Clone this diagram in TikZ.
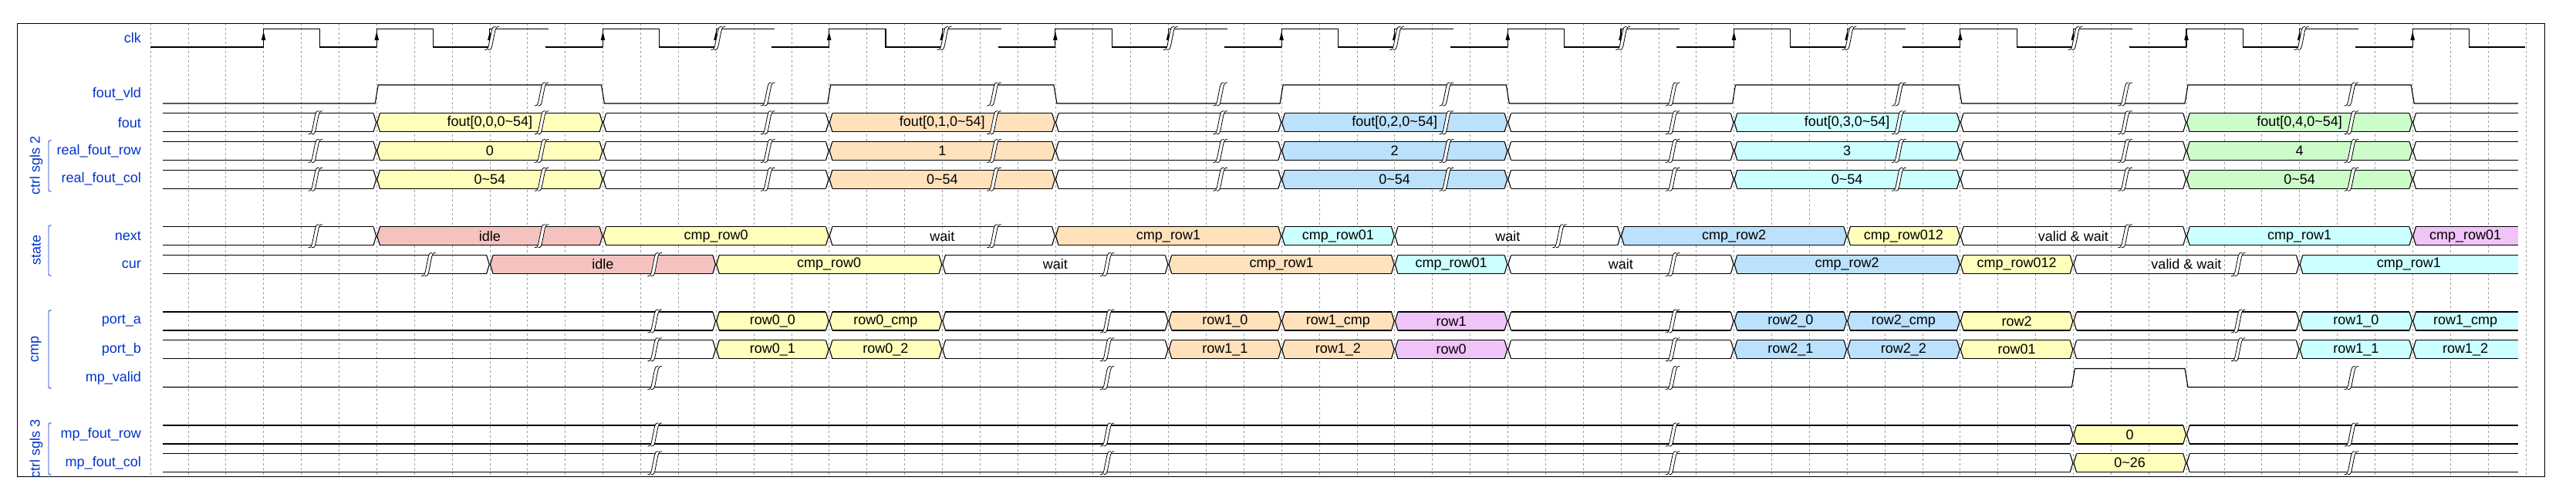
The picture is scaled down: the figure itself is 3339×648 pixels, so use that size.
\documentclass[tikz,border=0pt]{standalone}
\usepackage{fontspec}
\setmainfont{Liberation Sans}
\definecolor{cY}{HTML}{FFFFBB}
\definecolor{cO}{HTML}{FFE1BB}
\definecolor{cB}{HTML}{BBE1FD}
\definecolor{cC}{HTML}{CCFFFF}
\definecolor{cG}{HTML}{CCFCC8}
\definecolor{cP}{HTML}{F4C3C0}
\definecolor{cV}{HTML}{F0C4F8}
\definecolor{lbl}{HTML}{0033CC}
\tikzset{
  sig/.style={line width=1.1pt,black},
  grid/.style={gray!75,line width=0.6pt,dash pattern=on 3pt off 3pt},
  txt/.style={font=\fontsize{18}{20}\selectfont,inner sep=0pt},
  lab/.style={font=\fontsize{18}{20}\selectfont,text=lbl,anchor=east,inner sep=0pt},
  grp/.style={font=\fontsize{18}{20}\selectfont,text=lbl,rotate=90,inner sep=0pt},
  brace/.style={lbl,line width=0.8pt},
  brk/.style={line width=0.8pt,black}
}
\newcommand\seg[5]{%
\pgfmathsetmacro\mxa{195+48.87*#2}%
\pgfmathsetmacro\mxb{195+48.87*#3}%
\pgfmathsetmacro\myt{#1}\pgfmathsetmacro\mym{#1+12}\pgfmathsetmacro\myb{#1+24}%
\ifdim #2pt<1pt \let\mla\mxa\let\mlt\mxa\else\pgfmathsetmacro\mla{\mxa+0.6}\pgfmathsetmacro\mlt{\mxa+4.2}\fi
\ifdim #3pt>62pt \let\mra\mxb\let\mrt\mxb\else\pgfmathsetmacro\mra{\mxb-0.6}\pgfmathsetmacro\mrt{\mxb-4.2}\fi
\path[fill=#4] (\mla,\mym)--(\mlt,\myt)--(\mrt,\myt)--(\mra,\mym)--(\mrt,\myb)--(\mlt,\myb)--cycle;
\draw[sig] (\mlt,\myt)--(\mrt,\myt) (\mlt,\myb)--(\mrt,\myb);
\ifdim #2pt<1pt\else\draw[sig] (\mlt,\myt)--(\mla,\mym)--(\mlt,\myb);\fi
\ifdim #3pt>62pt\else\draw[sig] (\mrt,\myt)--(\mra,\mym)--(\mrt,\myb);\fi
\node[txt] at ({(\mxa+\mxb)/2},\mym) {#5};
}
\newcommand\brkm[2]{%
\pgfmathsetmacro\bxo{195+48.87*#2}\pgfmathsetmacro\bta{#1-3}\pgfmathsetmacro\btb{#1+27}%
\fill[white] ({\bxo-8},\btb) .. controls ({\bxo-4},\btb) and ({\bxo-4},{\btb-2}) .. ({\bxo-3},{\btb-5}) -- ({\bxo+1},{\bta+5}) .. controls ({\bxo+2},{\bta+2}) and ({\bxo+2},\bta) .. ({\bxo+6},\bta)
 -- ({\bxo+10.5},\bta) .. controls ({\bxo+6.5},\bta) and ({\bxo+6.5},{\bta+2}) .. ({\bxo+5.5},{\bta+5}) -- ({\bxo+1.5},{\btb-5}) .. controls ({\bxo+0.5},{\btb-2}) and ({\bxo+0.5},\btb) .. ({\bxo-3.5},\btb) -- cycle;
\draw[brk] ({\bxo-8},\btb) .. controls ({\bxo-4},\btb) and ({\bxo-4},{\btb-2}) .. ({\bxo-3},{\btb-5}) -- ({\bxo+1},{\bta+5}) .. controls ({\bxo+2},{\bta+2}) and ({\bxo+2},\bta) .. ({\bxo+6},\bta);
\draw[brk] ({\bxo-3.5},\btb) .. controls ({\bxo+0.5},\btb) and ({\bxo+0.5},{\btb-2}) .. ({\bxo+1.5},{\btb-5}) -- ({\bxo+5.5},{\bta+5}) .. controls ({\bxo+6.5},{\bta+2}) and ({\bxo+6.5},\bta) .. ({\bxo+10.5},\bta);
}
\begin{document}
\begin{tikzpicture}[x=1pt,y=-1pt]
\useasboundingbox (0,0) rectangle (3339,648);
% grid
\foreach \g in {0,...,63} \draw[grid] ({195+48.87*\g},30) -- ({195+48.87*\g},617);
\draw[line width=0.9pt] (22,30) rectangle (3298,617);
% labels
\node[lab] (lclk) at (183,49.5) {clk};
\node[lab] (lvld) at (183,122) {fout\_vld};
\node[lab] (lfout) at (183,158.75) {fout};
\node[lab] (lrow) at (183,195.5) {real\_fout\_row};
\node[lab] (lcol) at (183,232.25) {real\_fout\_col};
\node[lab] (lnext) at (183,305.75) {next};
\node[lab] (lcur) at (183,342.5) {cur};
\node[lab] (lpa) at (183,416) {port\_a};
\node[lab] (lpb) at (183,452.75) {port\_b};
\node[lab] (lmv) at (183,489.5) {mp\_valid};
\node[lab] (lmr) at (183,563) {mp\_fout\_row};
\node[lab] (lmc) at (183,599.75) {mp\_fout\_col};
% groups
\node[grp] (g1) at (47,214) {ctrl sgls 2};
\node[grp] (g2) at (47,324) {state};
\node[grp] (g3) at (47,452) {cmp};
\node[grp] (g4) at (47,581) {ctrl sgls 3};
\foreach \a/\b in {182/248,292/357,402/503,548/615}
  \draw[brace] (67,\a) .. controls (63,\a) .. (63,\a+5) -- (63,\b-5) .. controls (63,\b) .. (67,\b);
% clk
\draw[sig] (195,61) -- ({195+48.87*3},61);
\foreach \k in {1,...,20}{
  \pgfmathsetmacro\ckr{195+48.87*3*\k}
  \pgfmathsetmacro\ckf{\ckr+48.87*1.5}
  \pgfmathsetmacro\ckn{min(\ckr+48.87*3,3273)}
  \pgfmathtruncatemacro\isb{(mod(\k,2)==1)&&(\k>2)}
  \ifnum\isb=1
    \draw[sig] (\ckr,61) -- (\ckr,37.5) -- ({\ckf+3},37.5);
    \draw[sig] ({\ckf-1},61) -- (\ckn,61);
  \else
    \draw[sig] (\ckr,61) -- (\ckr,37.5) -- (\ckf,37.5) -- (\ckf,61) -- (\ckn,61);
  \fi
  \fill (\ckr,41) -- ({\ckr-2.8},52) -- ({\ckr+2.8},52) -- cycle;
}
\foreach \k in {3,5,...,19} \brkm{37.5}{3*\k+1.5};
% fout_vld
\draw[sig] (211,134) \foreach \k in {0,...,4}{ -- ({195+48.87*(6+12*\k)-2},134) -- ({195+48.87*(6+12*\k)+2},110) -- ({195+48.87*(12+12*\k)-2},110) -- ({195+48.87*(12+12*\k)+2},134)} -- (3264,134);
\foreach \u in {10.35,16.35,22.35,28.35,34.35,40.35,46.35,52.35,58.35} \brkm{110}{\u};
% fout
\seg{146.75}{0.33}{6}{none}{}
\seg{146.75}{6}{12}{cY}{fout[0,0,0\textasciitilde54]}
\seg{146.75}{12}{18}{none}{}
\seg{146.75}{18}{24}{cO}{fout[0,1,0\textasciitilde54]}
\seg{146.75}{24}{30}{none}{}
\seg{146.75}{30}{36}{cB}{fout[0,2,0\textasciitilde54]}
\seg{146.75}{36}{42}{none}{}
\seg{146.75}{42}{48}{cC}{fout[0,3,0\textasciitilde54]}
\seg{146.75}{48}{54}{none}{}
\seg{146.75}{54}{60}{cG}{fout[0,4,0\textasciitilde54]}
\seg{146.75}{60}{62.8}{none}{}
% real_fout_row
\seg{183.5}{0.33}{6}{none}{}
\seg{183.5}{6}{12}{cY}{0}
\seg{183.5}{12}{18}{none}{}
\seg{183.5}{18}{24}{cO}{1}
\seg{183.5}{24}{30}{none}{}
\seg{183.5}{30}{36}{cB}{2}
\seg{183.5}{36}{42}{none}{}
\seg{183.5}{42}{48}{cC}{3}
\seg{183.5}{48}{54}{none}{}
\seg{183.5}{54}{60}{cG}{4}
\seg{183.5}{60}{62.8}{none}{}
% real_fout_col
\seg{220.25}{0.33}{6}{none}{}
\seg{220.25}{6}{12}{cY}{0\textasciitilde54}
\seg{220.25}{12}{18}{none}{}
\seg{220.25}{18}{24}{cO}{0\textasciitilde54}
\seg{220.25}{24}{30}{none}{}
\seg{220.25}{30}{36}{cB}{0\textasciitilde54}
\seg{220.25}{36}{42}{none}{}
\seg{220.25}{42}{48}{cC}{0\textasciitilde54}
\seg{220.25}{48}{54}{none}{}
\seg{220.25}{54}{60}{cG}{0\textasciitilde54}
\seg{220.25}{60}{62.8}{none}{}
\foreach \u in {4.35,10.35,16.35,22.35,28.35,34.35,40.35,46.35,52.35,58.35}{\brkm{146.75}{\u}\brkm{183.5}{\u}\brkm{220.25}{\u}}
% next
\seg{293.75}{0.33}{6}{none}{}
\seg{293.75}{6}{12}{cP}{idle}
\seg{293.75}{12}{18}{cY}{cmp\_row0}
\seg{293.75}{18}{24}{none}{wait}
\seg{293.75}{24}{30}{cO}{cmp\_row1}
\seg{293.75}{30}{33}{cC}{cmp\_row01}
\seg{293.75}{33}{39}{none}{wait}
\seg{293.75}{39}{45}{cB}{cmp\_row2}
\seg{293.75}{45}{48}{cY}{cmp\_row012}
\seg{293.75}{48}{54}{none}{valid \& wait}
\seg{293.75}{54}{60}{cC}{cmp\_row1}
\seg{293.75}{60}{62.8}{cV}{cmp\_row01}
\foreach \u in {4.35,10.35,22.35,37.35,52.35} \brkm{293.75}{\u};
% cur
\seg{330.5}{0.33}{9}{none}{}
\seg{330.5}{9}{15}{cP}{idle}
\seg{330.5}{15}{21}{cY}{cmp\_row0}
\seg{330.5}{21}{27}{none}{wait}
\seg{330.5}{27}{33}{cO}{cmp\_row1}
\seg{330.5}{33}{36}{cC}{cmp\_row01}
\seg{330.5}{36}{42}{none}{wait}
\seg{330.5}{42}{48}{cB}{cmp\_row2}
\seg{330.5}{48}{51}{cY}{cmp\_row012}
\seg{330.5}{51}{57}{none}{valid \& wait}
\seg{330.5}{57}{62.8}{cC}{cmp\_row1}
\foreach \u in {7.35,13.35,25.35,40.35,55.35} \brkm{330.5}{\u};
% port_a
\seg{404}{0.33}{15}{none}{}
\seg{404}{15}{18}{cY}{row0\_0}
\seg{404}{18}{21}{cY}{row0\_cmp}
\seg{404}{21}{27}{none}{}
\seg{404}{27}{30}{cO}{row1\_0}
\seg{404}{30}{33}{cO}{row1\_cmp}
\seg{404}{33}{36}{cV}{row1}
\seg{404}{36}{42}{none}{}
\seg{404}{42}{45}{cB}{row2\_0}
\seg{404}{45}{48}{cB}{row2\_cmp}
\seg{404}{48}{51}{cY}{row2}
\seg{404}{51}{57}{none}{}
\seg{404}{57}{60}{cC}{row1\_0}
\seg{404}{60}{62.8}{cC}{row1\_cmp}
% port_b
\seg{440.75}{0.33}{15}{none}{}
\seg{440.75}{15}{18}{cY}{row0\_1}
\seg{440.75}{18}{21}{cY}{row0\_2}
\seg{440.75}{21}{27}{none}{}
\seg{440.75}{27}{30}{cO}{row1\_1}
\seg{440.75}{30}{33}{cO}{row1\_2}
\seg{440.75}{33}{36}{cV}{row0}
\seg{440.75}{36}{42}{none}{}
\seg{440.75}{42}{45}{cB}{row2\_1}
\seg{440.75}{45}{48}{cB}{row2\_2}
\seg{440.75}{48}{51}{cY}{row01}
\seg{440.75}{51}{57}{none}{}
\seg{440.75}{57}{60}{cC}{row1\_1}
\seg{440.75}{60}{62.8}{cC}{row1\_2}
\foreach \u in {13.35,25.35,40.35,55.35}{\brkm{404}{\u}\brkm{440.75}{\u}}
% mp_valid
\draw[sig] (211,501.5) -- ({195+48.87*51-2},501.5) -- ({195+48.87*51+2},477.5) -- ({195+48.87*54-2},477.5) -- ({195+48.87*54+2},501.5) -- (3264,501.5);
% mp_fout_row / col
\seg{551}{0.33}{51}{none}{}
\seg{551}{51}{54}{cY}{0}
\seg{551}{54}{62.8}{none}{}
\seg{587.75}{0.33}{51}{none}{}
\seg{587.75}{51}{54}{cY}{0\textasciitilde26}
\seg{587.75}{54}{62.8}{none}{}
\foreach \u in {13.35,25.35,40.35,58.35}{\brkm{477.5}{\u}\brkm{551}{\u}\brkm{587.75}{\u}}
\end{tikzpicture}
\end{document}
